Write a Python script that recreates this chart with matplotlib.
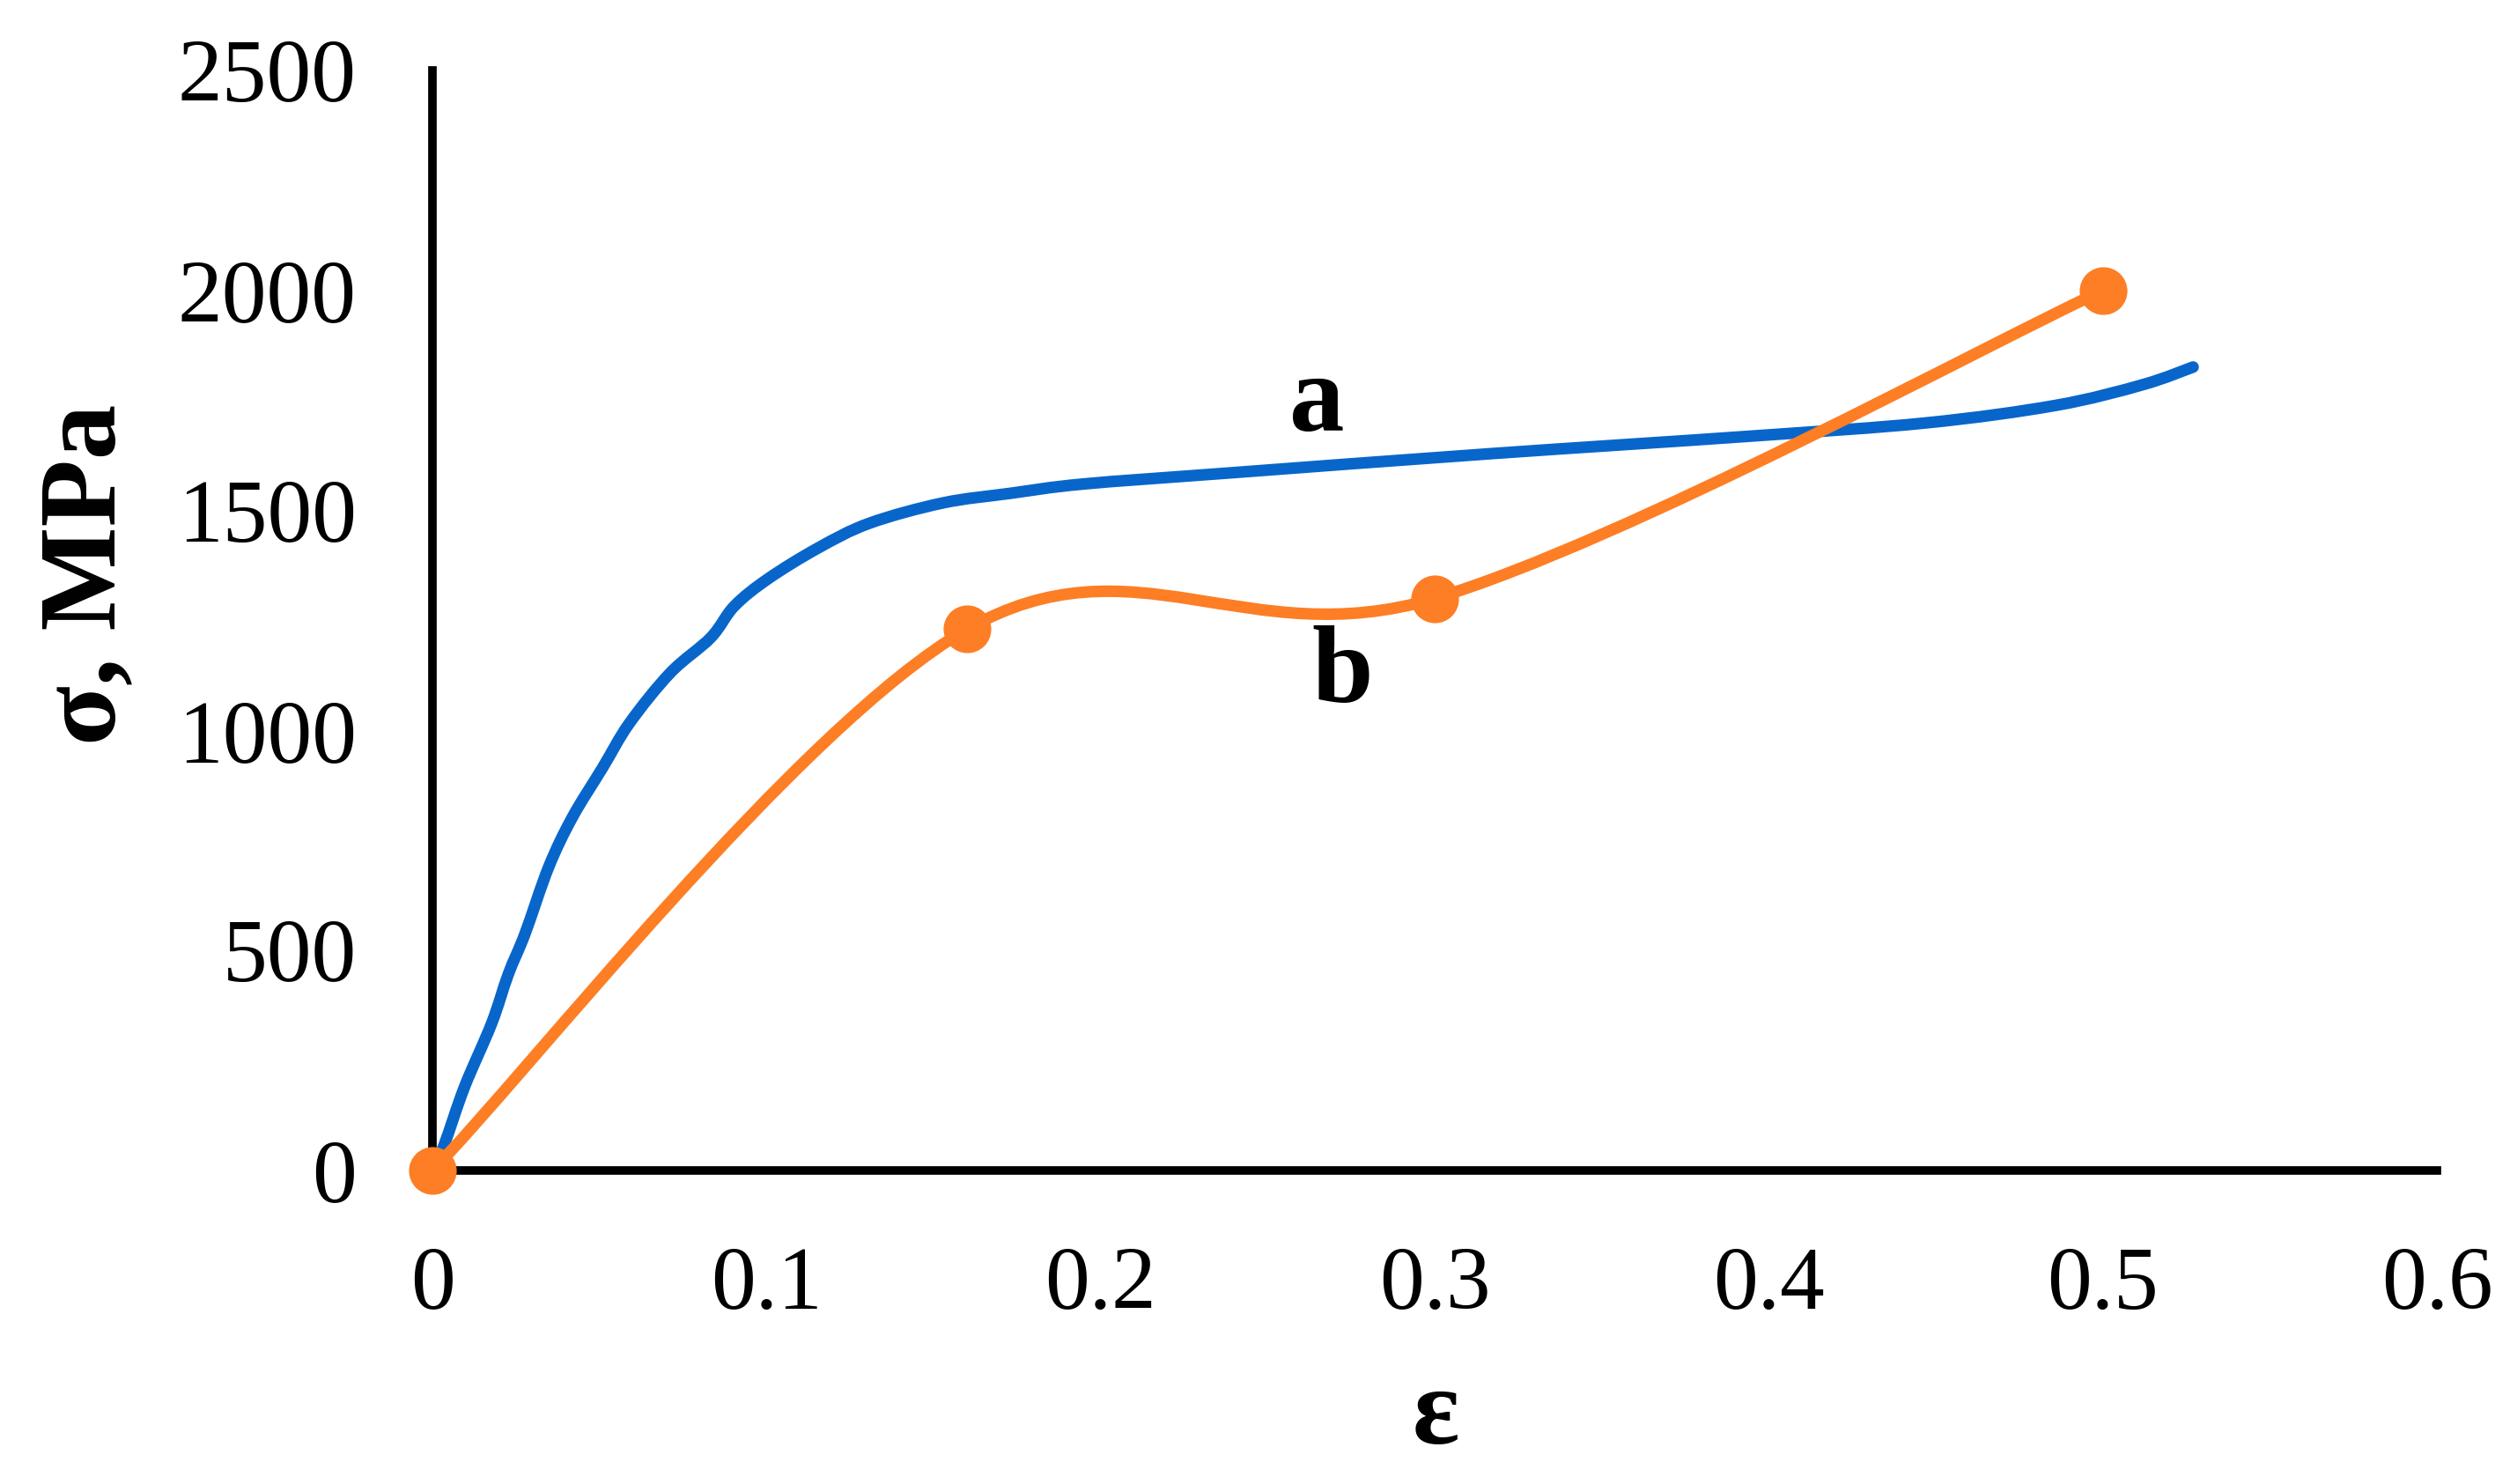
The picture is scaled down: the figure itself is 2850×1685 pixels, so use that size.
import numpy as np
import matplotlib
matplotlib.use("Agg")
import matplotlib.pyplot as plt
from matplotlib.path import Path
from matplotlib.patches import PathPatch

# curve a - measured stress-strain curve
strain_a = [0, 0.0035, 0.0096, 0.0177, 0.0227, 0.0277, 0.0348, 0.0419, 0.0509, 0.059,
            0.0712, 0.0833, 0.0904, 0.1005, 0.1155, 0.1308, 0.1527, 0.173, 0.1946, 0.238,
            0.3166, 0.3947, 0.447, 0.486, 0.512, 0.527]
stress_a = [0, 58, 190, 334, 446, 538, 690, 803, 915, 1017,
            1131, 1211, 1283, 1345, 1415, 1471, 1517, 1539, 1560, 1585,
            1629, 1669, 1699, 1739, 1786, 1826]

# curve b - four points with markers
strain_b = [0, 0.16, 0.3, 0.5]
stress_b = [0, 1230, 1300, 2000]

x_ticks = [0, 0.1, 0.2, 0.3, 0.4, 0.5, 0.6]
y_ticks = [0, 500, 1000, 1500, 2000, 2500]

blue = "#0866CA"
orange = "#FD7E24"
serif = ["Liberation Serif", "DejaVu Serif"]


def smooth_path(xs, ys):
    # excel-like smoothed line (cubic bezier through the points)
    pts = np.column_stack([xs, ys]).astype(float)
    p = np.vstack([pts[0], pts, pts[-1]])
    verts = [pts[0]]
    codes = [Path.MOVETO]
    for i in range(1, len(p) - 2):
        c1 = p[i] + (p[i + 1] - p[i - 1]) / 6
        c2 = p[i + 1] - (p[i + 2] - p[i]) / 6
        verts += [c1, c2, p[i + 1]]
        codes += [Path.CURVE4] * 3
    return Path(verts, codes)


fig = plt.figure(figsize=(28.5, 16.85), dpi=100)
ax = fig.add_axes([0.1723, 0.2113, 0.9709 - 0.1723, 0.9525 - 0.2113])

ax.add_patch(PathPatch(smooth_path(strain_a, stress_a), fill=False, edgecolor=blue,
                       lw=9.5, capstyle="round", joinstyle="round", zorder=3))
ax.add_patch(PathPatch(smooth_path(strain_b, stress_b), fill=False, edgecolor=orange,
                       lw=9.5, capstyle="round", joinstyle="round", zorder=3))
ax.plot(strain_b, stress_b, "o", ms=38, color=orange, clip_on=False, zorder=4)

ax.set_xlim(0, 0.6)
ax.set_ylim(0, 2500)
ax.set_xticks(x_ticks)
ax.set_yticks(y_ticks)
ax.set_xticklabels([f"{v:g}" for v in x_ticks], family=serif, fontsize=73)
ax.set_yticklabels([f"{v}" for v in y_ticks], family=serif, fontsize=73)
ax.tick_params(length=0, pad=62)
for s in ["top", "right"]:
    ax.spines[s].set_visible(False)
for s in ["left", "bottom"]:
    ax.spines[s].set_linewidth(7)
    ax.spines[s].set_color("black")

ax.text(0.2647, 1741, "a", family=serif, fontsize=90, fontweight="bold",
        ha="center", va="center")
ax.text(0.2723, 1125, "b", family=serif, fontsize=90, fontweight="bold",
        ha="center", va="center")

fig.text(0.035, 0.613, "σ, MPa", family=serif, fontsize=90, fontweight="bold",
         rotation=90, ha="center", va="center")
fig.text(0.572, 0.045, "ε", family=serif, fontsize=90, fontweight="bold",
         ha="center", va="center")

fig.savefig("out.png", dpi=100)
